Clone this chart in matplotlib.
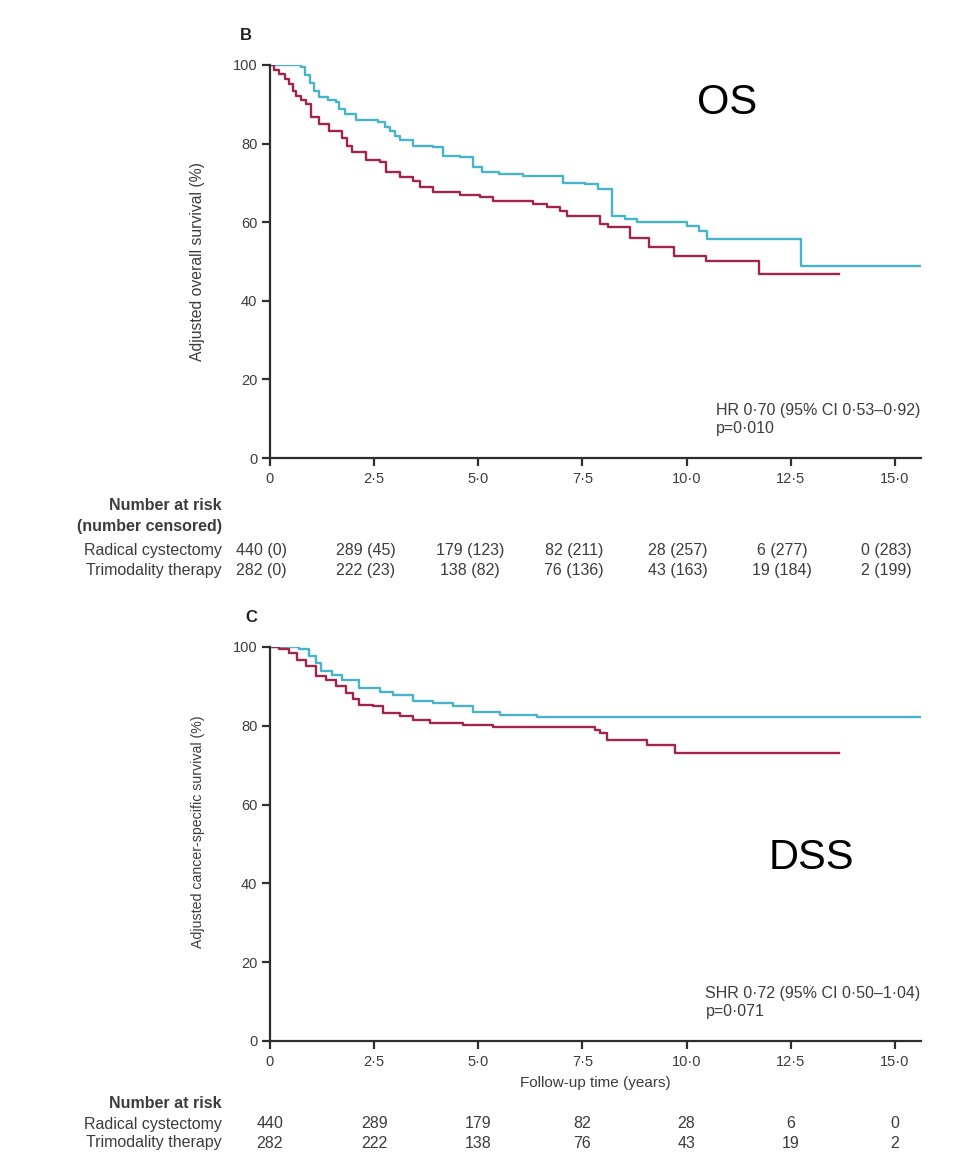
import matplotlib
matplotlib.use("Agg")
from matplotlib import pyplot as plt
from matplotlib import transforms

plt.rcParams['font.family'] = ['Liberation Sans Narrow', 'Liberation Sans', 'DejaVu Sans']

# colours
teal = "#47b4cb"
crimson = "#a3244b"
ink = "#3c3c3c"

# Overall survival (panel B) - step curves, time in years / survival %
os_tmt_t = [0, 0.74, 0.85, 0.95, 1.05, 1.18, 1.4, 1.58, 1.66, 1.8, 2.06, 2.6, 2.75, 2.87, 3.0,
            3.11, 3.43, 3.91, 4.15, 4.55, 4.87, 5.1, 5.5, 6.08, 7.04, 7.57, 7.88, 8.2, 8.53,
            8.81, 10.0, 10.3, 10.5, 12.75, 15.62]
os_tmt_s = [100, 99.4, 97.5, 95.5, 93.5, 91.8, 91.0, 90.5, 88.9, 87.5, 85.9, 85.4, 84.3, 83.3, 82.0,
            80.8, 79.5, 79.1, 76.9, 76.5, 74.0, 72.7, 72.3, 71.8, 70.1, 69.8, 68.5, 61.6, 60.9,
            60.0, 59.1, 57.8, 55.8, 48.9, 48.9]
os_rc_t = [0, 0.1, 0.22, 0.35, 0.46, 0.55, 0.62, 0.75, 0.86, 0.98, 1.18, 1.42, 1.74, 1.85, 1.98,
           2.31, 2.63, 2.79, 3.11, 3.43, 3.59, 3.91, 4.55, 5.04, 5.35, 6.31, 6.64, 6.96, 7.13,
           7.93, 8.12, 8.65, 9.09, 9.69, 10.46, 11.74, 13.67]
os_rc_s = [100, 98.8, 97.8, 96.5, 95.2, 93.5, 92.2, 91.0, 90.1, 86.7, 85.0, 83.3, 81.3, 79.5, 77.8,
           75.7, 75.2, 72.7, 71.4, 70.6, 68.9, 67.6, 66.8, 66.5, 65.5, 64.6, 63.8, 62.9, 61.7,
           59.5, 58.7, 56.1, 53.6, 51.5, 50.2, 46.8, 46.8]

# Cancer-specific survival (panel C)
dss_tmt_t = [0, 0.7, 0.94, 1.1, 1.22, 1.5, 1.74, 2.14, 2.63, 2.95, 3.43, 3.91, 4.39, 4.87, 5.52,
             6.4, 15.62]
dss_tmt_s = [100, 99.5, 97.7, 96.0, 93.8, 93.0, 91.7, 89.6, 88.7, 87.9, 86.2, 85.8, 84.9, 83.6, 82.8,
             82.2, 82.2]
dss_rc_t = [0, 0.22, 0.46, 0.66, 0.86, 1.1, 1.34, 1.58, 1.82, 2.0, 2.14, 2.47, 2.71, 3.11, 3.43,
            3.83, 4.63, 5.36, 7.81, 7.93, 8.09, 9.05, 9.73, 13.67]
dss_rc_s = [100, 99.5, 98.5, 96.8, 95.1, 92.6, 91.7, 90.0, 88.3, 86.8, 85.4, 84.9, 83.2, 82.4, 81.5,
            80.7, 80.3, 79.7, 78.9, 78.1, 76.4, 75.2, 73.0, 73.0]

# axis ticks
xticks = [0, 2.5, 5, 7.5, 10, 12.5, 15]
xticklabels = ["0", "2·5", "5·0", "7·5", "10·0", "12·5", "15·0"]
yticks = [0, 20, 40, 60, 80, 100]

# number at risk tables
rc_risk = [440, 289, 179, 82, 28, 6, 0]
rc_cens = [0, 45, 123, 211, 257, 277, 283]
tmt_risk = [282, 222, 138, 76, 43, 19, 2]
tmt_cens = [0, 23, 82, 136, 163, 184, 199]

W, H = 954, 1165
fig = plt.figure(figsize=(W / 100, H / 100), dpi=100)
fig.patch.set_facecolor("white")
fs = 11.5  # small text size


def px(x, y):
    # pixel position -> figure fraction
    return x / W, 1 - y / H


def make_axes(top, bottom):
    left, right = 270, 920.7
    ax = fig.add_axes([left / W, 1 - bottom / H, (right - left) / W, (bottom - top) / H])
    ax.set_xlim(0, 15.62)
    ax.set_ylim(0, 100)
    for s in ["top", "right"]:
        ax.spines[s].set_visible(False)
    for s in ["left", "bottom"]:
        ax.spines[s].set_linewidth(1.6)
        ax.spines[s].set_color("#2e2e2e")
    ax.set_xticks(xticks)
    ax.set_xticklabels(xticklabels)
    ax.set_yticks(yticks)
    ax.tick_params(direction="out", length=6, width=1.6, color="#2e2e2e",
                   labelsize=10.5, labelcolor=ink)
    ax.tick_params(axis="x", pad=4)
    ax.tick_params(axis="y", pad=3)
    return ax


# ---- panel B ----
ax1 = make_axes(65, 458)
ax1.step(os_tmt_t, os_tmt_s, where="post", color=teal, lw=1.7)
ax1.step(os_rc_t, os_rc_s, where="post", color=crimson, lw=1.7)
ax1.set_ylabel("Adjusted overall survival (%)", fontsize=11.3, color=ink)
ax1.yaxis.set_label_coords(-0.1, 0.5)
ax1.text(1.0, 0.098, "HR 0·70 (95% CI 0·53–0·92)\np=0·010", transform=ax1.transAxes,
         ha="right", va="center", multialignment="left", fontsize=fs, color=ink, linespacing=1.3)
fig.text(*px(727, 103), "OS", fontsize=30, ha="center", va="center",
         family=["Liberation Sans", "DejaVu Sans"], color="black")
fig.text(*px(246, 35), "B", fontsize=12, fontweight="bold", ha="center", va="center", color="#222222")

# ---- panel C ----
ax2 = make_axes(647, 1041)
ax2.step(dss_tmt_t, dss_tmt_s, where="post", color=teal, lw=1.7)
ax2.step(dss_rc_t, dss_rc_s, where="post", color=crimson, lw=1.7)
ax2.set_ylabel("Adjusted cancer-specific survival (%)", fontsize=10.2, color=ink)
ax2.yaxis.set_label_coords(-0.1, 0.53)
ax2.set_xlabel("Follow-up time (years)", fontsize=11, color=ink, labelpad=5)
ax2.text(1.0, 0.098, "SHR 0·72 (95% CI 0·50–1·04)\np=0·071", transform=ax2.transAxes,
         ha="right", va="center", multialignment="left", fontsize=fs, color=ink, linespacing=1.3)
fig.text(*px(811, 858), "DSS", fontsize=30, ha="center", va="center",
         family=["Liberation Sans", "DejaVu Sans"], color="black")
fig.text(*px(251, 617), "C", fontsize=12, fontweight="bold", ha="center", va="center", color="#222222")

# ---- number at risk tables ----
label_x = 222 / W
trB = transforms.blended_transform_factory(ax1.transData, fig.transFigure)
trC = transforms.blended_transform_factory(ax2.transData, fig.transFigure)

fig.text(label_x, 1 - 506 / H, "Number at risk", ha="right", va="center", fontsize=fs,
         fontweight="bold", color=ink)
fig.text(label_x, 1 - 527 / H, "(number censored)", ha="right", va="center", fontsize=fs,
         fontweight="bold", color=ink)
fig.text(label_x, 1 - 550 / H, "Radical cystectomy", ha="right", va="center", fontsize=fs, color=ink)
fig.text(label_x, 1 - 570 / H, "Trimodality therapy", ha="right", va="center", fontsize=fs, color=ink)
for i, t in enumerate(xticks):
    ax1.text(t - 0.2, 1 - 550 / H, "{} ({})".format(rc_risk[i], rc_cens[i]), transform=trB,
             ha="center", va="center", fontsize=fs, color=ink)
    ax1.text(t - 0.2, 1 - 570 / H, "{} ({})".format(tmt_risk[i], tmt_cens[i]), transform=trB,
             ha="center", va="center", fontsize=fs, color=ink)

fig.text(label_x, 1 - 1104 / H, "Number at risk", ha="right", va="center", fontsize=fs,
         fontweight="bold", color=ink)
fig.text(label_x, 1 - 1124 / H, "Radical cystectomy", ha="right", va="center", fontsize=fs, color=ink)
fig.text(label_x, 1 - 1143 / H, "Trimodality therapy", ha="right", va="center", fontsize=fs, color=ink)
for i, t in enumerate(xticks):
    ax2.text(t, 1 - 1124 / H, str(rc_risk[i]), transform=trC, ha="center", va="center",
             fontsize=fs, color=ink)
    ax2.text(t, 1 - 1143 / H, str(tmt_risk[i]), transform=trC, ha="center", va="center",
             fontsize=fs, color=ink)

fig.savefig("out.png", dpi=100, facecolor="white")
